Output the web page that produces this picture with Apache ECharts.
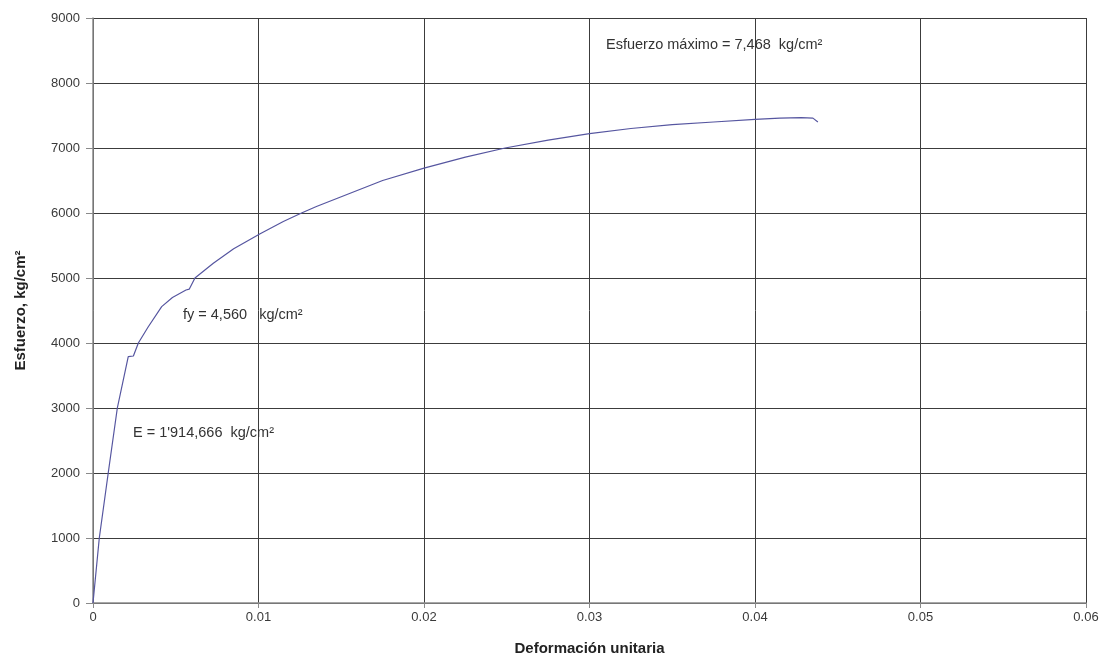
<!DOCTYPE html>
<html>
<head>
<meta charset="utf-8">
<script src="https://cdn.jsdelivr.net/npm/echarts@6/dist/echarts.min.js"></script>
<style>
  html, body { margin: 0; padding: 0; background: #fff; }
  #chart { width: 1107px; height: 664px; }
</style>
</head>
<body>
<div id="chart"></div>
<script>
// Stress-strain curve of a steel tensile test
const strain = [0, 0.00038, 0.00092, 0.00147, 0.00213, 0.00244, 0.00274, 0.00334, 0.00415, 0.0048,
  0.00562, 0.00582, 0.00616, 0.00727, 0.0085, 0.0101, 0.0115, 0.0126, 0.0135, 0.015,
  0.0175, 0.02, 0.0225, 0.0249, 0.0275, 0.03, 0.0325, 0.035, 0.0375, 0.04,
  0.0415, 0.0428, 0.0435, 0.0438];
const stress = [0, 1000, 2000, 3000, 3790, 3800, 4000, 4250, 4560, 4700,
  4815, 4830, 5000, 5226, 5450, 5680, 5870, 6000, 6100, 6250,
  6500, 6690, 6860, 7000, 7120, 7220, 7300, 7360, 7400, 7440,
  7460, 7468, 7460, 7400];

const xTicks = [0, 0.01, 0.02, 0.03, 0.04, 0.05, 0.06];
const yTicks = [0, 1000, 2000, 3000, 4000, 5000, 6000, 7000, 8000, 9000];

const notes = [
  { text: 'Esfuerzo máximo = 7,468  kg/cm²', x: 606, y: 45 },
  { text: 'fy = 4,560   kg/cm²', x: 183, y: 315 },
  { text: 'E = 1\'914,666  kg/cm²', x: 133, y: 433 }
];

const FONT = '"Liberation Sans", Arial, sans-serif';
const chart = echarts.init(document.getElementById('chart'));

chart.setOption({
  animation: false,
  backgroundColor: '#ffffff',
  grid: { left: 93, right: 21, top: 18, bottom: 61, containLabel: false },
  xAxis: {
    type: 'value',
    min: xTicks[0],
    max: xTicks[xTicks.length - 1],
    interval: 0.01,
    name: 'Deformación unitaria',
    nameLocation: 'middle',
    nameGap: 38,
    nameTextStyle: { fontFamily: FONT, fontSize: 15, fontWeight: 'bold', color: '#222' },
    axisLine: { show: true, lineStyle: { color: '#8a8a8a', width: 1.5 } },
    axisTick: { show: true, length: 5, inside: false, lineStyle: { color: '#8a8a8a' } },
    axisLabel: {
      fontFamily: FONT, fontSize: 13, color: '#3a3a3a', margin: 8,
      formatter: v => String(Number(v.toFixed(2)))
    },
    splitLine: { show: true, lineStyle: { color: '#3c3c3c', width: 1 } }
  },
  yAxis: {
    type: 'value',
    min: yTicks[0],
    max: yTicks[yTicks.length - 1],
    interval: 1000,
    name: 'Esfuerzo, kg/cm²',
    nameLocation: 'middle',
    nameGap: 65,
    nameTextStyle: { fontFamily: FONT, fontSize: 15, fontWeight: 'bold', color: '#222' },
    axisLine: { show: true, lineStyle: { color: '#8a8a8a', width: 1.5 } },
    axisTick: { show: true, length: 7, inside: false, lineStyle: { color: '#8a8a8a' } },
    axisLabel: { fontFamily: FONT, fontSize: 13, color: '#3a3a3a', margin: 13, formatter: v => String(v) },
    splitLine: { show: true, lineStyle: { color: '#3c3c3c', width: 1 } }
  },
  series: [{
    type: 'line',
    data: strain.map((x, i) => [x, stress[i]]),
    showSymbol: false,
    smooth: false,
    lineStyle: { color: '#5656a0', width: 1.2 }
  }],
  graphic: notes.map(n => ({
    type: 'text',
    x: n.x,
    y: n.y,
    style: { text: n.text, font: '14.5px ' + FONT, fill: '#333', verticalAlign: 'middle', align: 'left' },
    z: 10
  }))
});
</script>
</body>
</html>
